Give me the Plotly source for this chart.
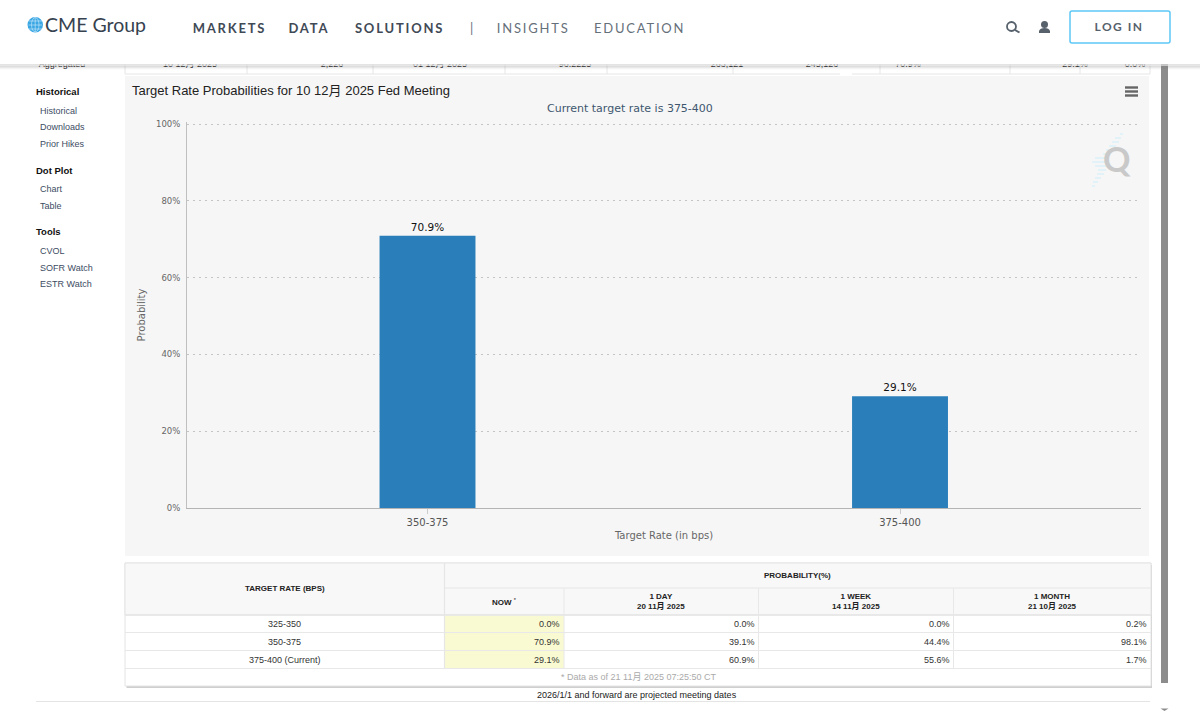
import plotly.graph_objects as go

W = 1200
H = 711

# chart values
rates = ["350-375", "375-400"]
probs = [70.9, 29.1]
y_ticks = [0, 20, 40, 60, 80, 100]

# table values
table_rates = ["325-350", "350-375", "375-400 (Current)"]
now_vals = ["0.0%", "70.9%", "29.1%"]
day_vals = ["0.0%", "39.1%", "60.9%"]
week_vals = ["0.0%", "44.4%", "55.6%"]
month_vals = ["0.2%", "98.1%", "1.7%"]

# clipped row right under the header
strip_text = ["Aggregated", "10 12月 2025", "2,226", "01 12月 2025", "96.2225", "263,121", "245,126", "70.9%", "29.1%", "0.0%"]
strip_x = [62, 190, 332, 440, 575, 727, 822, 908, 1075, 1135]

nav_items = ["MARKETS", "DATA", "SOLUTIONS", "INSIGHTS", "EDUCATION"]
nav_x = [229, 309.5, 399, 533, 639.5]
side_heads = ["Historical", "Dot Plot", "Tools"]
side_heads_y = [91, 170, 231]
side_links = ["Historical", "Downloads", "Prior Hikes", "Chart", "Table", "CVOL", "SOFR Watch", "ESTR Watch"]
side_links_y = [111, 127, 144, 189, 206, 251, 268, 284]

ARIAL = "Liberation Sans, Noto Sans CJK SC, sans-serif"
DEJA = "DejaVu Sans, sans-serif"
LATO = "Lato, sans-serif"


def px(x):
    return x / W


def py(y):
    return 1 - y / H


shapes = []
annots = []


def rect(x0, y0, x1, y1, fill, line=None, lw=1, layer="below"):
    shapes.append(dict(type="rect", xref="paper", yref="paper", x0=px(x0), x1=px(x1), y0=py(y0), y1=py(y1),
                       fillcolor=fill, line=dict(color=line or fill, width=lw if line else 0), layer=layer))


def hline(x0, x1, y, color, lw=1, layer="below"):
    shapes.append(dict(type="line", xref="paper", yref="paper", x0=px(x0), x1=px(x1), y0=py(y), y1=py(y),
                       line=dict(color=color, width=lw), layer=layer))


def vline(x, y0, y1, color, lw=1):
    shapes.append(dict(type="line", xref="paper", yref="paper", x0=px(x), x1=px(x), y0=py(y0), y1=py(y1),
                       line=dict(color=color, width=lw), layer="below"))


def text(x, y, s, size=10, color="#333333", family=ARIAL, anchor="center", weight=None):
    annots.append(dict(xref="paper", yref="paper", x=px(x), y=py(y), text=s, showarrow=False,
                       xanchor=anchor, yanchor="middle",
                       font=dict(size=size, color=color, family=family, weight=weight),
                       borderpad=0, borderwidth=0))


# panels
rect(125, 76, 1149, 556, "#f6f6f6")

# top strip cells, the white header shape sits over them
rect(125, 60, 1150, 74, "#ffffff", "#e6e6e6")
for x in [247, 373, 505, 607, 733, 851, 880, 1010, 1080]:
    vline(x, 60, 74, "#e6e6e6")
rect(840, 60, 852, 76, "#ffffff")

# page scrollbar
rect(1161, 60, 1168, 683, "#8c8c8c")
shapes.append(dict(type="path", xref="paper", yref="paper", layer="below", fillcolor="#8c8c8c", line=dict(width=0),
                   path=f"M {px(1160.5)},{py(708.5)} L {px(1168.5)},{py(708.5)} L {px(1164.5)},{py(711)} Z"))

# header block and its see-through shadow
rect(0, 0, 1200, 64.5, "#ffffff", layer="above")
for i, c in enumerate([0.55, 0.3, 0.22, 0.12, 0.05]):
    hline(0, 1200, 65 + i, f"rgba(120,120,120,{c})", layer="above")
rect(0, 64.5, 1200, 66, "rgba(255,255,255,0.55)", layer="above")

# header
text(95.5, 25, "CME Group", 19.5, "#36424f", LATO)
nav_colors = ["#3f4a56", "#3f4a56", "#3f4a56", "#66707a", "#66707a"]
nav_weights = ["bold", "bold", "bold", "normal", "normal"]
for n, x, c, wt in zip(nav_items, nav_x, nav_colors, nav_weights):
    text(x, 28, n, 13, c, LATO, weight=wt)
text(471, 28, "|", 13, "#66707a", LATO)
text(1119, 27, "LOG IN", 12, "#56616c", LATO, weight="bold")

# login button, search, user
shapes.append(dict(type="path", xref="paper", yref="paper", layer="above",
                   path=f"M {px(1072)},{py(11)} L {px(1168)},{py(11)} Q {px(1170)},{py(11)} {px(1170)},{py(13)} "
                        f"L {px(1170)},{py(41)} Q {px(1170)},{py(43)} {px(1168)},{py(43)} L {px(1072)},{py(43)} "
                        f"Q {px(1070)},{py(43)} {px(1070)},{py(41)} L {px(1070)},{py(13)} Q {px(1070)},{py(11)} {px(1072)},{py(11)} Z",
                   line=dict(color="#5cc8f5", width=1.5)))
shapes.append(dict(type="circle", xref="paper", yref="paper", x0=px(1007), x1=px(1016), y0=py(22), y1=py(31),
                   line=dict(color="#56616c", width=1.8), layer="above"))
shapes.append(dict(type="line", xref="paper", yref="paper", x0=px(1015), x1=px(1019.5), y0=py(30), y1=py(32.5),
                   line=dict(color="#56616c", width=2), layer="above"))
shapes.append(dict(type="circle", xref="paper", yref="paper", x0=px(1041), x1=px(1048), y0=py(21), y1=py(28),
                   fillcolor="#56616c", line=dict(width=0), layer="above"))
shapes.append(dict(type="path", xref="paper", yref="paper", layer="above", fillcolor="#56616c", line=dict(width=0),
                   path=f"M {px(1039)},{py(33)} L {px(1039)},{py(31)} Q {px(1040)},{py(28)} {px(1044.5)},{py(28)} "
                        f"Q {px(1049)},{py(28)} {px(1050)},{py(31)} L {px(1050)},{py(33)} Z"))

# globe
shapes.append(dict(type="circle", xref="paper", yref="paper", x0=px(27.5), x1=px(43), y0=py(17), y1=py(32.5),
                   fillcolor="#3aa6e4", line=dict(width=0), layer="above"))
for dy in [21, 25, 29]:
    shapes.append(dict(type="line", xref="paper", yref="paper", x0=px(28.5), x1=px(42), y0=py(dy), y1=py(dy),
                       line=dict(color="#d4eefb", width=0.6), layer="above"))
shapes.append(dict(type="line", xref="paper", yref="paper", x0=px(35.2), x1=px(35.2), y0=py(17.5), y1=py(32),
                   line=dict(color="#d4eefb", width=0.6), layer="above"))
shapes.append(dict(type="circle", xref="paper", yref="paper", x0=px(31.5), x1=px(39), y0=py(17.5), y1=py(32),
                   line=dict(color="#d4eefb", width=0.6), layer="above"))

# sidebar
for s, y in zip(side_heads, side_heads_y):
    text(36, y, s, 9.5, "#111111", ARIAL, "left", weight="bold")
for s, y in zip(side_links, side_links_y):
    text(40, y, s, 9, "#3d4c63", ARIAL, "left")

# chart texts
text(630, 108, "Current target rate is 375-400", 11, "#3e576f", DEJA)
# menu icon
for y in [87.5, 91.5, 95.5]:
    hline(1125, 1138, y, "#666666", 2.4)
# Q logo
text(1117, 159, "Q", 34, "#c9c9c9", LATO, weight="bold")
for y, x0, x1 in [(134, 1120, 1123), (138, 1115, 1121), (142, 1112, 1119), (146, 1109, 1116), (150, 1106, 1113),
                  (154, 1103, 1110), (158, 1095, 1108), (162, 1092, 1106), (166, 1095, 1106), (170, 1098, 1106),
                  (174, 1097, 1104), (178, 1095, 1101), (182, 1093, 1098), (186, 1092, 1095)]:
    hline(x0, x1, y, "#d8f1fb", 1.4)

# table
rect(126.5, 565, 1152, 688, "#cfcfcf")
rect(125, 563, 1151, 686, "#ffffff", "#e4e4e4")
rect(125, 563, 1151, 615, "#f8f8f8", "#e4e4e4")
rect(445, 615.5, 564, 668, "#fafad2")
hline(445, 1151, 588, "#e6e6e6", 1.2)
hline(125, 1151, 615, "#e6e6e6", 1.6)
for y in [632.5, 650.5, 668.5]:
    hline(125, 1151, y, "#e8e8e8", 1)
vline(444.5, 563, 668, "#e6e6e6", 1.2)
for x in [564, 758.5, 953.5]:
    vline(x, 588, 668, "#e8e8e8", 1)
text(284.5, 588, "TARGET RATE (BPS)", 8, "#222222", weight="bold")
text(797, 575.5, "PROBABILITY(%)", 8, "#222222", weight="bold")
heads = [("<b>NOW</b> <sup>*</sup>", 504), ("<b>1 DAY<br>20 11月 2025</b>", 661), ("<b>1 WEEK<br>14 11月 2025</b>", 856),
         ("<b>1 MONTH<br>21 10月 2025</b>", 1052)]
for s, x in heads:
    text(x, 601.5, s, 8, "#222222")
row_y = [624, 641.5, 659.5]
for i, y in enumerate(row_y):
    text(284.5, y, table_rates[i], 9, "#333333")
    text(560, y, now_vals[i], 9, "#333333", anchor="right")
    text(755, y, day_vals[i], 9, "#333333", anchor="right")
    text(950, y, week_vals[i], 9, "#333333", anchor="right")
    text(1146.5, y, month_vals[i], 9, "#333333", anchor="right")
text(638, 677, "* Data as of 21 11月 2025 07:25:50 CT", 9, "#aaaaaa")
text(637, 695, "2026/1/1 and forward are projected meeting dates", 9, "#222222")
hline(36, 1150, 701.5, "#e4e4e4")

fig = go.Figure()
fig.add_trace(go.Bar(x=rates, y=probs,
                     marker_color="#2a7fba",
                     marker_line_width=0,
                     width=0.203,
                     text=[f"{v}%" for v in probs],
                     textposition="outside",
                     cliponaxis=False,
                     textfont=dict(size=10.5, color="#111111", family=DEJA),
                     hoverinfo="none"))
# clipped strip text, drawn as a trace so the header shape can cover it
fig.add_trace(go.Scatter(x=strip_x, y=[65] * len(strip_x), text=strip_text, mode="text",
                         textposition="middle center",
                         textfont=dict(size=9, color="#222222", family=ARIAL),
                         hoverinfo="none", xaxis="x2", yaxis="y2", cliponaxis=False))

fig.update_layout(
    width=W, height=H,
    margin=dict(l=0, r=0, t=0, b=0),
    paper_bgcolor="#ffffff",
    plot_bgcolor="rgba(0,0,0,0)",
    showlegend=False,
    title=dict(text="Target Rate Probabilities for 10 12月 2025 Fed Meeting", x=px(132), xanchor="left",
               y=py(90), yanchor="middle", font=dict(size=13, color="#222222", family=ARIAL)),
    shapes=shapes,
    annotations=annots,
    xaxis=dict(domain=[px(187), px(1141)], range=[-0.509, 1.51], type="category", automargin=False,
               showgrid=False, showline=True, linecolor="#b4b4b4", linewidth=1,
               ticks="outside", ticklen=5, tickcolor="#cccccc",
               tickfont=dict(size=10, color="#555555", family=DEJA),
               title=dict(text="Target Rate (in bps)", standoff=4,
                          font=dict(size=10, color="#666666", family=DEJA))),
    # range runs a hair past 100 so the top gridline is still drawn
    yaxis=dict(domain=[py(508), py(122)], range=[0, 100.52], tickvals=y_ticks, automargin=False,
               ticktext=[f"{v}%" for v in y_ticks],
               showgrid=True, gridcolor="#c4c4c4", griddash="1.5px,4.5px", gridwidth=1,
               zeroline=False, showline=True, linecolor="#c0c0c0", linewidth=1,
               ticks="", ticklabelstandoff=4,
               tickfont=dict(size=8.5, color="#666666", family=DEJA),
               title=dict(text="Probability", standoff=8,
                          font=dict(size=10, color="#666666", family=DEJA))),
    xaxis2=dict(domain=[0, 1], range=[0, W], visible=False, anchor="y2", automargin=False),
    yaxis2=dict(domain=[0, 1], range=[H, 0], visible=False, anchor="x2", automargin=False),
)

# the page has no margin, and the nav labels are letter-spaced
post = """
document.body.style.margin = '0';
document.body.style.overflow = 'hidden';
var spaced = {'MARKETS':1.8,'DATA':1.8,'SOLUTIONS':1.8,'INSIGHTS':1.8,'EDUCATION':1.8,'LOG IN':1.5};
document.querySelectorAll('.annotation-text').forEach(function(t) {
    if (spaced[t.textContent]) { t.style.letterSpacing = spaced[t.textContent] + 'px'; }
});
"""
fig.write_html("out.html", post_script=post, config=dict(displayModeBar=False))
